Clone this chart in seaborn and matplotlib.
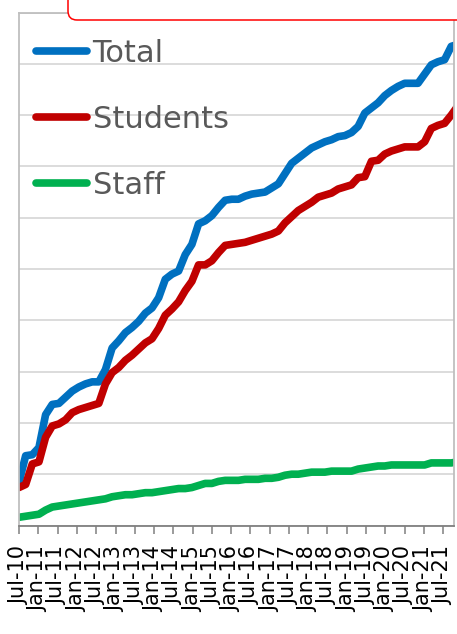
import matplotlib
matplotlib.use("Agg")
import matplotlib.pyplot as plt
import matplotlib.dates as mdates
from matplotlib.patches import FancyBboxPatch
from matplotlib.transforms import IdentityTransform
import pandas as pd
import seaborn as sns

# Cumulative counts, one reading every 9 weeks from July 2010
dates = pd.date_range("2010-07-01", periods=67, freq="63D")

total = [42, 68, 69, 76, 108, 118, 119, 125, 131, 135,
         138, 140, 140, 152, 173, 180, 188, 193, 199, 207,
         212, 222, 240, 245, 248, 264, 274, 294, 297, 302,
         310, 317, 318, 318, 321, 323, 324, 325, 329, 333,
         343, 353, 358, 363, 368, 371, 374, 376, 379, 380,
         383, 389, 402, 407, 412, 419, 424, 428, 431, 431,
         431, 440, 449, 452, 454, 467, 469]

students = [37, 40, 60, 62, 86, 97, 99, 103, 110, 113,
            115, 117, 119, 138, 149, 154, 161, 166, 172, 178,
            182, 192, 205, 211, 218, 229, 238, 254, 254, 258,
            266, 273, 274, 275, 276, 278, 280, 282, 284, 287,
            295, 301, 307, 311, 315, 320, 322, 324, 328, 330,
            332, 339, 340, 355, 356, 362, 365, 367, 369, 369,
            369, 374, 387, 390, 392, 400, 409]

staff = [8, 9, 10, 11, 15, 18, 19, 20, 21, 22,
         23, 24, 25, 26, 28, 29, 30, 30, 31, 32,
         32, 33, 34, 35, 36, 36, 37, 39, 41, 41,
         43, 44, 44, 44, 45, 45, 45, 46, 46, 47,
         49, 50, 50, 51, 52, 52, 52, 53, 53, 53,
         53, 55, 56, 57, 58, 58, 59, 59, 59, 59,
         59, 59, 61, 61, 61, 61, 62]

series = ["Total", "Students", "Staff"]
colors = ["#0070C0", "#C00000", "#00B050"]

df = pd.DataFrame({"date": dates, "Total": total, "Students": students, "Staff": staff})
df_long = df.melt(id_vars="date", var_name="group", value_name="count")

sns.set_theme(style="white")
plt.rcParams["font.family"] = ["DejaVu Sans"]

fig = plt.figure(figsize=(4.57, 6.34), dpi=100)
ax = fig.add_axes([19 / 457, (634 - 525.5) / 634, 435 / 457, 513 / 634])

sns.lineplot(data=df_long, x="date", y="count", hue="group", hue_order=series,
             palette=colors, linewidth=5.5, ax=ax,
             solid_capstyle="round", solid_joinstyle="round")

ax.set_xlim(pd.Timestamp("2010-07-01"), pd.Timestamp("2021-10-12"))
ax.set_ylim(0, 500)
ax.set_yticks(range(0, 501, 50))
ax.yaxis.grid(True, color="#D9D9D9", linewidth=1.3)
ax.tick_params(axis="y", left=False, labelleft=False)
ax.set_xlabel("")
ax.set_ylabel("")

ax.xaxis.set_major_locator(mdates.MonthLocator(bymonth=[1, 7]))
ax.xaxis.set_major_formatter(mdates.DateFormatter("%b-%y"))
ax.tick_params(axis="x", bottom=True, direction="out", length=6, width=1.1,
               color="#808080", pad=9, labelsize=15, labelcolor="black",
               labelrotation=90)

for side in ["left", "top", "right"]:
    ax.spines[side].set_color("#BFBFBF")
    ax.spines[side].set_linewidth(1.3)
ax.spines["bottom"].set_color("#808080")
ax.spines["bottom"].set_linewidth(1.3)

leg = ax.legend(loc="upper left", bbox_to_anchor=(0.040, 0.948), frameon=False,
                fontsize=22, handlelength=1.64, handletextpad=0.2,
                labelspacing=1.2, borderpad=0, borderaxespad=0)
for txt in leg.get_texts():
    txt.set_color("#595959")
for line in leg.get_lines():
    line.set_linewidth(5.5)
    line.set_solid_capstyle("round")

# red rounded box peeking in at the top
box = FancyBboxPatch((68, 634 - 20), 420, 60,
                     boxstyle="round,pad=0,rounding_size=9",
                     facecolor="white", edgecolor="red", linewidth=1.1,
                     transform=IdentityTransform(), zorder=10)
fig.add_artist(box)

fig.savefig("out.png", dpi=100)
